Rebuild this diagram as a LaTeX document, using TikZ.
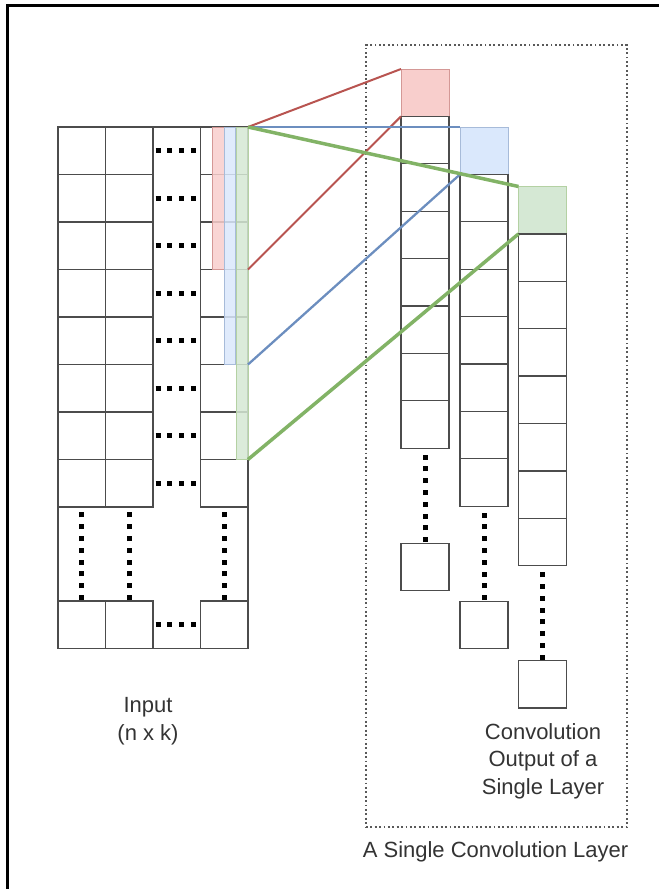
\documentclass[tikz,border=0pt]{standalone}
\usepackage{fontspec}
\setmainfont{Liberation Sans}

\definecolor{redfill}{HTML}{F8CECC}
\definecolor{redline}{HTML}{B85450}
\definecolor{bluefill}{HTML}{DAE8FC}
\definecolor{blueline}{HTML}{6C8EBF}
\definecolor{greenfill}{HTML}{D5E8D4}
\definecolor{greenline}{HTML}{82B366}

\begin{document}
\begin{tikzpicture}[
		x=1pt, y=-1pt,
		incell/.style={draw=black!70, line width=1.3pt, minimum width=47.5pt, minimum height=47.5pt, inner sep=0pt, outer sep=0pt, anchor=north west},
		outcell/.style={incell, minimum width=48pt, minimum height=47.4pt},
		grid/.style={draw=black!70, line width=1.3pt},
		dots/.style={line width=5pt, dash pattern=on 5pt off 6.8pt},
		redbox/.style={draw=redline!60, fill=redfill, fill opacity=0.85, line width=1pt, inner sep=0pt, outer sep=0pt, anchor=north west},
		bluebox/.style={redbox, draw=blueline!60, fill=bluefill},
		greenbox/.style={redbox, draw=greenline!60, fill=greenfill},
		redwire/.style={draw=redline, line width=2pt},
		bluewire/.style={draw=blueline, line width=2.3pt},
		greenwire/.style={draw=greenline, line width=3.5pt},
		layerbox/.style={draw=black!65, line width=1.8pt, dash pattern=on 1.8pt off 2.6pt, inner sep=0pt, anchor=north west},
		label/.style={font=\fontsize{22}{27.5}\selectfont, text=black!80, align=center}
		]
		\useasboundingbox (0,0) rectangle (659,889);
		
		% Draw frame
		\draw[line width=2.5pt] (7.5,889) |- (659,5.5);
		
		% Draw input grid
		\foreach \c/\x in {1/58, 2/105.5, 4/200.5} {
			\foreach \r in {1,...,8}
				\node[incell] (in-\c-\r) at (\x,127+47.5*\r-47.5) {};
			\node[incell] (in-\c-9) at (\x,601) {};
		}
		\draw[grid] (in-2-1.north east) -- (in-4-1.north west);
		\draw[grid] (in-2-9.south east) -- (in-4-9.south west);
		\draw[grid] (in-1-8.south west) -- (in-1-9.north west);
		\draw[grid] (in-4-8.south east) -- (in-4-9.north east);
		
		% Dots between cells
		\foreach \r in {1,...,9}
			\draw[dots] ([xshift=2.5pt]in-2-\r.east) -- ++(40.4,0);
		\foreach \c in {1,2,4}
			\draw[dots] ([yshift=1pt]in-\c-9.north) -- ++(0,-87.6);
		
		% Filters on the input
		\node[redbox, minimum width=12pt, minimum height=142.5pt] (rf) at (212,127) {};
		\node[bluebox, minimum width=11.5pt, minimum height=237.5pt] (bf) at (224,127) {};
		\node[greenbox, minimum width=11.5pt, minimum height=332.5pt] (gf) at (236.5,127) {};
		
		% Convolution layer
		\node[layerbox, minimum width=261pt, minimum height=782pt] (layer) at (365,44) {};
		
		% Output columns
		\foreach \col/\cx/\cy/\fillst in {r/401/69/redbox, b/460/127/bluebox, g/518.5/186.5/greenbox} {
			\node[\fillst, fill opacity=1, minimum width=48pt, minimum height=47.4pt] (\col s) at (\cx,\cy) {};
			\foreach \k in {1,...,7}
				\node[outcell] (\col c\k) at (\cx,\cy+47.4*\k) {};
			\node[outcell] (\col last) at (\cx,\cy+47.4*8+95) {};
			\draw[dots] ([yshift=1pt]\col last.north) -- ++(0,-87.6);
		}
		
		% Connect filters to outputs
		\draw[redwire] (in-4-1.north east) -- (rs.north west);
		\draw[redwire] (rf.south -| in-4-1.east) -- (rs.south west);
		\draw[bluewire] (in-4-1.north east) -- (bs.north west);
		\draw[bluewire] (bf.south -| in-4-1.east) -- (bs.south west);
		\draw[greenwire] (in-4-1.north east) -- (gs.north west);
		\draw[greenwire] (gf.south -| in-4-1.east) -- (gs.south west);
		
		% Add labels
		\node[label] (inlabel) at (148,721) {Input\\(n x k)};
		\node[label] (outlabel) at (543,761) {Convolution\\Output of a\\Single Layer};
		\node[label] (layerlabel) at (495.5,852) {A Single Convolution Layer};
		
	\end{tikzpicture}
\end{document}
